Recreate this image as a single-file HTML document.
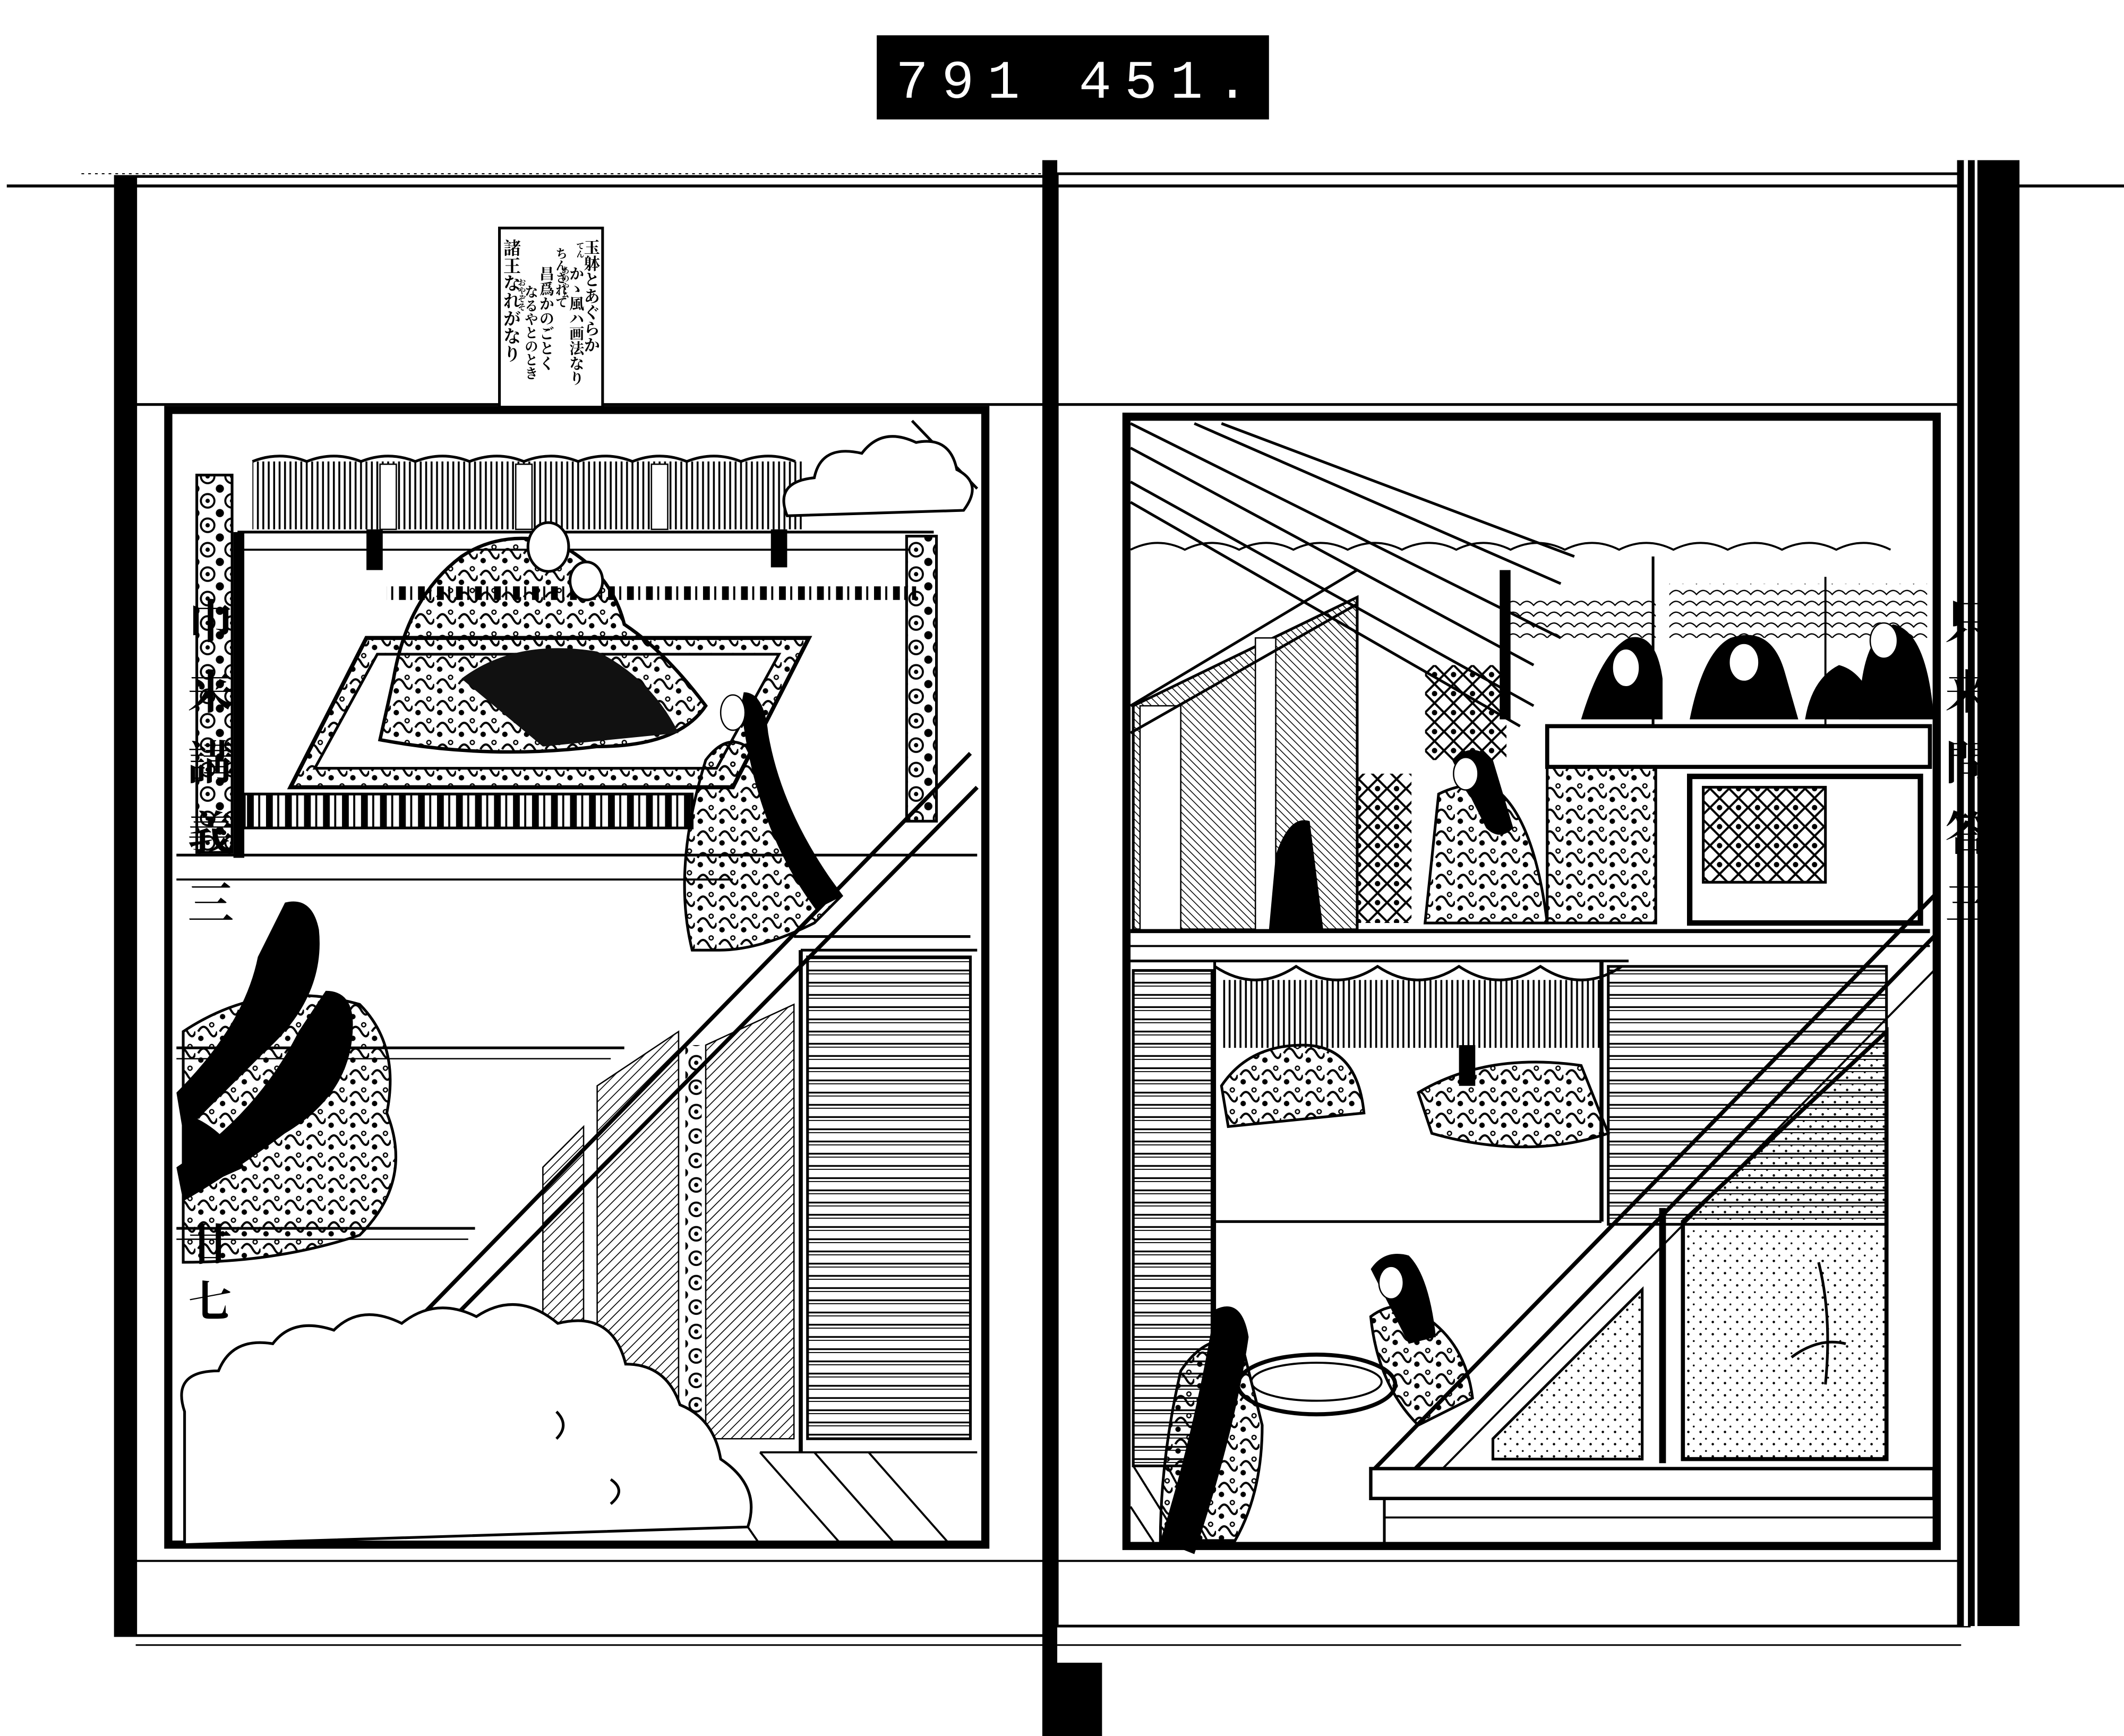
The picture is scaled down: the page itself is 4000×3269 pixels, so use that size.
<!DOCTYPE html>
<html><head><meta charset="utf-8">
<style>
html,body{margin:0;padding:0;background:#fff;}
svg{display:block;}
.jp{font-family:"Liberation Serif","Noto Serif CJK SC","Noto Sans CJK JP",serif;}
</style></head>
<body>
<svg width="4000" height="3269" viewBox="0 0 1565 1279" preserveAspectRatio="none" xmlns="http://www.w3.org/2000/svg">
<defs>
<pattern id="hatch" width="5" height="5" patternUnits="userSpaceOnUse" patternTransform="rotate(45)">
<line x1="0" y1="0" x2="0" y2="5" stroke="#000" stroke-width="1.3"/></pattern>
<pattern id="hatch2" width="4" height="4" patternUnits="userSpaceOnUse" patternTransform="rotate(-45)">
<line x1="0" y1="0" x2="0" y2="4" stroke="#000" stroke-width="1.2"/></pattern>
<pattern id="louver" width="10" height="9" patternUnits="userSpaceOnUse">
<line x1="0" y1="4" x2="10" y2="4" stroke="#000" stroke-width="1.3"/><line x1="0" y1="6.5" x2="10" y2="6.5" stroke="#000" stroke-width="0.7"/></pattern>
<pattern id="blind" width="4" height="10" patternUnits="userSpaceOnUse">
<line x1="2" y1="0" x2="2" y2="10" stroke="#000" stroke-width="1.4"/></pattern>
<pattern id="stripe" width="14" height="10" patternUnits="userSpaceOnUse">
<rect x="0" y="0" width="5" height="10" fill="#000"/><line x1="9" y1="0" x2="9" y2="10" stroke="#000" stroke-width="1.5"/></pattern>
<pattern id="dots" width="9" height="9" patternUnits="userSpaceOnUse">
<circle cx="2" cy="2" r="0.9" fill="#000"/><circle cx="6" cy="7" r="0.7" fill="#000"/></pattern>
<pattern id="flower" width="18" height="18" patternUnits="userSpaceOnUse">
<circle cx="9" cy="9" r="5" fill="none" stroke="#000" stroke-width="1.5"/><circle cx="9" cy="9" r="1.6" fill="#000"/><circle cx="0" cy="0" r="3" fill="#000"/><circle cx="18" cy="18" r="3" fill="#000"/><circle cx="18" cy="0" r="3" fill="#000"/><circle cx="0" cy="18" r="3" fill="#000"/></pattern>
<pattern id="robe" width="16" height="16" patternUnits="userSpaceOnUse">
<path d="M2 8 q4 -7 8 0 q4 7 6 0" fill="none" stroke="#000" stroke-width="1.6"/><circle cx="4" cy="13" r="2" fill="#000"/><circle cx="12" cy="3" r="1.5" fill="none" stroke="#000"/></pattern>
<pattern id="lattice" width="14" height="14" patternUnits="userSpaceOnUse">
<path d="M7 0 L14 7 L7 14 L0 7Z" fill="none" stroke="#000" stroke-width="1.6"/><circle cx="7" cy="7" r="2" fill="#000"/></pattern>
<pattern id="wave" width="20" height="8" patternUnits="userSpaceOnUse">
<path d="M0 6 q5 -6 10 0 q5 -6 10 0" fill="none" stroke="#000" stroke-width="0.9"/></pattern>
</defs>

<rect x="646" y="26" width="289" height="62" fill="#000"/>
<text x="660" y="72" fill="#fff" font-family="Liberation Mono,monospace" font-size="40" textLength="260" lengthAdjust="spacing">791  451.</text>

<line x1="5" y1="137" x2="1565" y2="137" stroke="#000" stroke-width="2.2"/>
<line x1="60" y1="128" x2="1460" y2="128" stroke="#000" stroke-width="0.8" stroke-dasharray="2 3"/>

<rect x="85" y="130" width="687" height="1075" fill="none" stroke="#000" stroke-width="2"/>
<rect x="85" y="130" width="16" height="1075" fill="#000"/>
<line x1="100" y1="298" x2="770" y2="298" stroke="#000" stroke-width="2"/>
<line x1="100" y1="1150" x2="770" y2="1150" stroke="#000" stroke-width="1.5"/>
<line x1="100" y1="1212" x2="770" y2="1212" stroke="#000" stroke-width="1.2"/>

<rect x="768" y="118" width="11" height="1161" fill="#000"/>
<rect x="774" y="1225" width="38" height="54" fill="#000"/>

<rect x="779" y="128" width="672" height="1070" fill="none" stroke="#000" stroke-width="2"/>
<rect x="1442" y="118" width="46" height="1080" fill="#000"/>
<rect x="1447" y="118" width="3" height="1080" fill="#fff"/>
<rect x="1455" y="118" width="2" height="1080" fill="#fff"/>
<line x1="779" y1="298" x2="1445" y2="298" stroke="#000" stroke-width="2"/>
<line x1="779" y1="1150" x2="1445" y2="1150" stroke="#000" stroke-width="1.5"/>
<line x1="779" y1="1212" x2="1445" y2="1212" stroke="#000" stroke-width="1.2"/>

<!-- text box -->
<rect x="368" y="168" width="76" height="132" fill="#fff" stroke="#000" stroke-width="2"/>
<g class="jp" fill="#000" font-weight="bold">
<text writing-mode="tb" x="435" y="176" font-size="12">玉躰とあぐらか</text>
<text writing-mode="tb" x="424" y="196" font-size="11">かゝ風ハ画法なり</text>
<text writing-mode="tb" x="427" y="178" font-size="6">てん</text>
<text writing-mode="tb" x="416" y="196" font-size="6">あのやム</text>
<text writing-mode="tb" x="413" y="182" font-size="9">ちんされて</text>
<text writing-mode="tb" x="402" y="196" font-size="11">昌爲かのごとく</text>
<text writing-mode="tb" x="391" y="210" font-size="10">なるやとのとき</text>
<text writing-mode="tb" x="384" y="205" font-size="6">おやぞそ</text>
<text writing-mode="tb" x="376" y="176" font-size="13">諸王なれがなり</text>
</g>

<g class="jp" fill="#000" font-weight="bold">
<text writing-mode="tb" x="152" y="440" font-size="34" letter-spacing="18">巾来講義三</text>
<text writing-mode="tb" x="152" y="900" font-size="32" letter-spacing="10">廿七</text>
<text writing-mode="tb" x="1447" y="440" font-size="34" letter-spacing="18">只来問答三</text>
</g>

<!-- LEFT PICTURE -->
<rect x="124" y="302" width="602" height="836" fill="none" stroke="#000" stroke-width="6"/>
<rect x="186" y="340" width="405" height="50" fill="url(#blind)"/>
<path d="M186 340 q20 -8 40 0 q20 -8 40 0 q20 -8 40 0 q20 -8 40 0 q20 -8 40 0 q20 -8 40 0 q20 -8 40 0 q20 -8 40 0 q20 -8 40 0 q20 -8 40 0" fill="none" stroke="#000" stroke-width="2"/>
<rect x="280" y="342" width="12" height="48" fill="#fff" stroke="#000"/><rect x="380" y="342" width="12" height="48" fill="#fff" stroke="#000"/><rect x="480" y="342" width="12" height="48" fill="#fff" stroke="#000"/>
<rect x="270" y="390" width="12" height="30" fill="#000"/><rect x="568" y="390" width="12" height="28" fill="#000"/>
<line x1="175" y1="392" x2="688" y2="392" stroke="#000" stroke-width="2"/>
<line x1="175" y1="405" x2="670" y2="405" stroke="#000" stroke-width="1.5"/>
<rect x="172" y="392" width="8" height="240" fill="#000"/>
<rect x="145" y="350" width="26" height="278" fill="url(#flower)" stroke="#000" stroke-width="2"/>
<rect x="668" y="395" width="22" height="210" fill="url(#flower)" stroke="#000" stroke-width="2"/>
<line x1="130" y1="630" x2="720" y2="630" stroke="#000" stroke-width="2"/>
<line x1="130" y1="648" x2="540" y2="648" stroke="#000" stroke-width="1.5"/>
<path d="M672 310 L720 360" stroke="#000" stroke-width="2"/>
<path d="M580 380 q-10 -25 20 -28 q5 -25 35 -18 q15 -20 40 -8 q25 -5 30 20 q20 10 5 30 z" fill="#fff" stroke="#000" stroke-width="2"/>
<path d="M214 580 L270 470 L596 470 L540 580 Z" fill="url(#robe)" stroke="#000" stroke-width="3"/>
<path d="M232 566 L278 482 L574 482 L528 566 Z" fill="#fff" stroke="#000" stroke-width="2"/>
<rect x="285" y="432" width="390" height="10" fill="url(#stripe)"/>
<rect x="180" y="585" width="330" height="25" fill="url(#stripe)" stroke="#000" stroke-width="2"/>
<path d="M290 500 q10 -60 50 -90 q30 -20 70 -10 q40 20 50 60 q30 20 60 60 q-20 30 -80 30 q-80 10 -160 -5 z" fill="url(#robe)" stroke="#000" stroke-width="2.5"/>
<path d="M340 500 q40 -30 100 -20 q40 20 60 60 l-100 10 z" fill="#111"/>
<ellipse cx="404" cy="403" rx="15" ry="18" fill="#fff" stroke="#000" stroke-width="2"/>
<ellipse cx="432" cy="428" rx="12" ry="14" fill="#fff" stroke="#000" stroke-width="2"/>
<path d="M520 560 q15 -20 30 -10 l10 20 q30 50 60 90 l-20 20 q-40 20 -70 20 l-20 0 q-15 -60 10 -140z" fill="url(#robe)" stroke="#000" stroke-width="2"/>
<path d="M548 510 q15 0 18 30 q10 60 55 120 l-20 10 q-45 -60 -55 -150z" fill="#000"/>
<ellipse cx="540" cy="525" rx="9" ry="13" fill="#fff" stroke="#000"/>
<path d="M305 975 L715 555" stroke="#000" stroke-width="3"/>
<path d="M330 975 L720 580" stroke="#000" stroke-width="3"/>
<path d="M590 700 L720 700" stroke="#000" stroke-width="2"/>
<path d="M585 690 L715 690" stroke="#000" stroke-width="2"/>
<rect x="595" y="705" width="120" height="355" fill="url(#louver)" stroke="#000" stroke-width="2"/>
<line x1="590" y1="700" x2="590" y2="1070" stroke="#000" stroke-width="3"/>
<path d="M440 800 L500 760 L500 1070 L440 1070Z" fill="url(#hatch)" stroke="#000"/>
<path d="M520 770 L585 740 L585 1060 L520 1060Z" fill="url(#hatch)" stroke="#000"/>
<path d="M400 860 L430 830 L430 1000 L400 1000Z" fill="url(#hatch)" stroke="#000"/>
<rect x="505" y="770" width="12" height="290" fill="url(#flower)"/>
<line x1="130" y1="772" x2="460" y2="772" stroke="#000" stroke-width="2"/>
<line x1="130" y1="780" x2="450" y2="780" stroke="#000" stroke-width="1"/>
<line x1="130" y1="905" x2="350" y2="905" stroke="#000" stroke-width="2"/>
<line x1="130" y1="913" x2="345" y2="913" stroke="#000" stroke-width="1"/>
<path d="M520 1080 L560 1138 M560 1070 L620 1138 M600 1070 L660 1138 M640 1070 L700 1138 M560 1070 L720 1070" stroke="#000" stroke-width="1.5"/>
<path d="M135 760 q60 -40 130 -20 q30 30 20 80 q20 50 -20 90 q-60 20 -130 20z" fill="url(#robe)" stroke="#000" stroke-width="2"/>
<path d="M210 665 q20 -5 25 20 q5 50 -40 90 q-30 30 -60 60 l-5 -30 q50 -50 60 -100z" fill="#000"/>
<path d="M240 730 q20 0 20 25 q0 50 -50 80 q-40 30 -75 50 l-5 -25 q60 -40 90 -100z" fill="#000"/>
<path d="M135 820 q30 10 45 40 l-45 20z" fill="#000"/>
<path d="M136 1040 q-10 -30 25 -30 q10 -25 40 -20 q15 -20 45 -10 q20 -20 50 -5 q25 -20 55 -5 q30 -20 60 5 q40 -10 50 30 q30 0 40 30 q25 10 30 40 q30 20 20 50 L136 1138 Z" fill="#fff" stroke="#000" stroke-width="2"/>
<path d="M410 1040 q10 10 0 20 M450 1090 q12 8 0 18" stroke="#000" stroke-width="2" fill="none"/>

<!-- RIGHT PICTURE -->
<rect x="830" y="307" width="597" height="832" fill="none" stroke="#000" stroke-width="6"/>
<path d="M833 312 L1150 470 M833 330 L1130 490" stroke="#000" stroke-width="2"/>
<path d="M880 312 L1150 430 M900 312 L1160 410" stroke="#000" stroke-width="2"/>
<path d="M833 355 L1130 520 M833 370 L1120 535" stroke="#000" stroke-width="2"/>
<path d="M833 405 q20 -10 40 0 q20 -10 40 0 q20 -10 40 0 q20 -10 40 0 q20 -10 40 0 q20 -10 40 0 q20 -10 40 0 q20 -10 40 0 q20 -10 40 0 q20 -10 40 0 q20 -10 40 0 q20 -10 40 0 q20 -10 40 0 q20 -10 40 0" fill="none" stroke="#000" stroke-width="1.5"/>
<rect x="1230" y="430" width="190" height="40" fill="url(#wave)"/>
<rect x="1110" y="440" width="110" height="30" fill="url(#wave)"/>
<rect x="1105" y="420" width="8" height="110" fill="#000"/>
<line x1="1218" y1="410" x2="1218" y2="540" stroke="#000" stroke-width="2"/>
<line x1="1345" y1="425" x2="1345" y2="540" stroke="#000" stroke-width="1.5"/>
<path d="M835 520 L1000 440 L1000 685 L835 685Z" fill="url(#hatch2)" stroke="#000" stroke-width="2"/>
<rect x="840" y="520" width="30" height="165" fill="#fff" stroke="#000"/>
<rect x="925" y="470" width="15" height="215" fill="#fff" stroke="#000"/>
<path d="M833 520 L1000 420 M833 540 L1000 445" stroke="#000" stroke-width="2"/>
<rect x="1050" y="490" width="60" height="70" fill="url(#lattice)"/>
<rect x="1000" y="570" width="40" height="110" fill="url(#lattice)"/>
<rect x="1140" y="535" width="282" height="30" fill="#fff" stroke="#000" stroke-width="3"/>
<rect x="1140" y="565" width="80" height="115" fill="url(#robe)" stroke="#000" stroke-width="2"/>
<rect x="1245" y="572" width="170" height="108" fill="#fff" stroke="#000" stroke-width="4"/>
<rect x="1255" y="580" width="90" height="70" fill="url(#lattice)" stroke="#000" stroke-width="2"/>
<path d="M1165 530 q15 -50 35 -60 q20 -5 25 30 l0 30z" fill="#000"/>
<ellipse cx="1198" cy="492" rx="10" ry="14" fill="#fff" stroke="#000"/>
<path d="M1245 530 q10 -50 30 -60 q30 -10 40 25 l10 35z" fill="#000"/>
<ellipse cx="1285" cy="488" rx="11" ry="14" fill="#fff" stroke="#000"/>
<path d="M1330 530 q5 -30 25 -40 q20 5 30 40z" fill="#000"/>
<path d="M1370 530 q0 -60 25 -70 q25 5 30 70z" fill="#000"/>
<ellipse cx="1388" cy="472" rx="10" ry="13" fill="#fff" stroke="#000"/>
<path d="M1060 585 q20 -10 40 -5 q30 20 40 100 l-90 0z" fill="url(#robe)" stroke="#000" stroke-width="2"/>
<path d="M1070 560 q15 -15 30 0 l15 50 q-10 10 -20 0z" fill="#000"/>
<ellipse cx="1080" cy="570" rx="9" ry="12" fill="#fff" stroke="#000"/>
<path d="M940 630 q10 -30 25 -25 l10 80 l-40 0z" fill="#000"/>
<line x1="833" y1="686" x2="1422" y2="686" stroke="#000" stroke-width="3"/>
<line x1="833" y1="697" x2="1422" y2="697" stroke="#000" stroke-width="1.5"/>
<line x1="833" y1="708" x2="1200" y2="708" stroke="#000" stroke-width="2"/>
<rect x="900" y="722" width="280" height="50" fill="url(#blind)"/>
<path d="M895 712 q30 20 60 0 q30 20 60 0 q30 20 60 0 q30 20 60 0 q30 20 60 0" fill="none" stroke="#000" stroke-width="2"/>
<rect x="1075" y="770" width="12" height="30" fill="#000"/>
<rect x="835" y="715" width="58" height="365" fill="url(#louver)" stroke="#000" stroke-width="2"/>
<rect x="1185" y="712" width="205" height="190" fill="url(#louver)" stroke="#000" stroke-width="2"/>
<line x1="1180" y1="708" x2="1180" y2="900" stroke="#000" stroke-width="3"/>
<line x1="895" y1="900" x2="1180" y2="900" stroke="#000" stroke-width="2"/>
<line x1="895" y1="708" x2="895" y2="1080" stroke="#000" stroke-width="2"/>
<path d="M900 800 q20 -30 60 -30 q40 0 45 50 l-100 10z" fill="url(#robe)" stroke="#000" stroke-width="2"/>
<path d="M1045 805 q50 -30 120 -20 l20 50 q-60 20 -130 0z" fill="url(#robe)" stroke="#000" stroke-width="2"/>
<path d="M1010 1085 L1425 660" stroke="#000" stroke-width="3"/>
<path d="M1040 1085 L1425 690" stroke="#000" stroke-width="3"/>
<path d="M1060 1085 L1425 715" stroke="#000" stroke-width="1.5"/>
<path d="M1240 900 L1390 760 L1390 1075 L1240 1075Z" fill="url(#dots)" stroke="#000" stroke-width="3"/>
<path d="M1100 1060 L1210 950 L1210 1075 L1100 1075Z" fill="url(#dots)" stroke="#000" stroke-width="2"/>
<line x1="1225" y1="890" x2="1225" y2="1078" stroke="#000" stroke-width="5"/>
<path d="M1340 930 q10 40 5 90 M1320 1000 q20 -15 40 -10" stroke="#000" stroke-width="2" fill="none"/>
<rect x="1010" y="1082" width="415" height="22" fill="#fff" stroke="#000" stroke-width="2.5"/>
<line x1="1020" y1="1104" x2="1020" y2="1136" stroke="#000" stroke-width="2"/>
<line x1="1020" y1="1118" x2="1425" y2="1118" stroke="#000" stroke-width="1.5"/>
<ellipse cx="970" cy="1020" rx="58" ry="22" fill="#fff" stroke="#000" stroke-width="3"/>
<ellipse cx="970" cy="1018" rx="48" ry="14" fill="none" stroke="#000" stroke-width="1.5"/>
<path d="M1010 970 q20 -15 40 0 q30 20 35 60 l-40 20 q-30 -30 -35 -80z" fill="url(#robe)" stroke="#000" stroke-width="2"/>
<path d="M1010 935 q10 -15 28 -10 q15 15 20 60 l-20 5z" fill="#000"/>
<ellipse cx="1025" cy="945" rx="9" ry="12" fill="#fff" stroke="#000"/>
<path d="M870 1010 q20 -30 45 -20 l15 60 q0 50 -20 85 l-55 0 q0 -60 15 -125z" fill="url(#robe)" stroke="#000" stroke-width="2"/>
<path d="M895 965 q20 -10 25 20 q-10 70 -40 160 l-25 -10 q25 -80 40 -170z" fill="#000"/>
<path d="M835 1080 L870 1136 M860 1080 L890 1136 M833 1110 L850 1136" stroke="#000" stroke-width="1.5"/>
</svg>
</body></html>
